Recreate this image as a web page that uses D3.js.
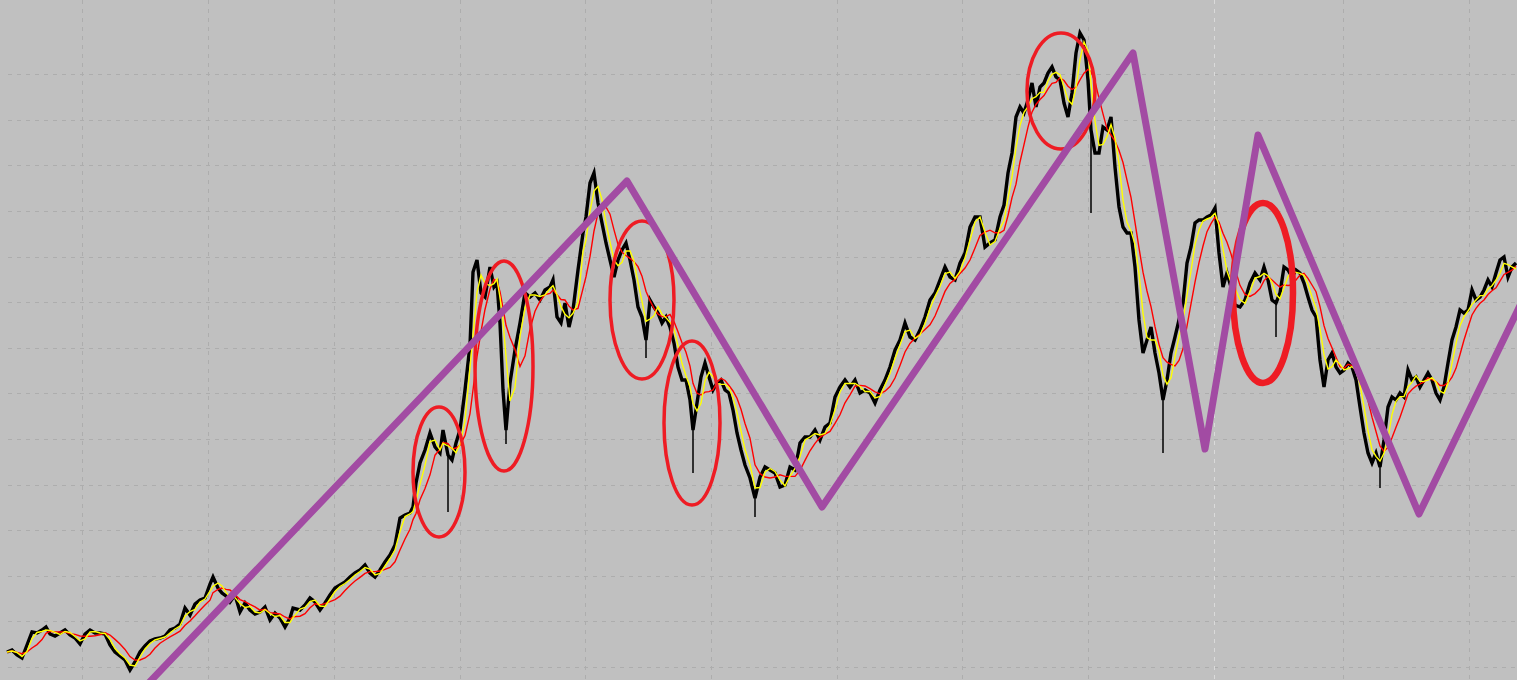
<!DOCTYPE html>
<html>
<head>
<meta charset="utf-8">
<script src="https://cdn.jsdelivr.net/npm/d3@7/dist/d3.min.js"></script>
<style>
  body { margin: 0; background: #c0c0c0; overflow: hidden; }
  svg { display: block; }
</style>
</head>
<body>
<div id="chart"></div>
<script>
var width = 1517, height = 680

// bar number of each sample
var bars = [7,12,17,22,27,32,37,42,46,50,55,60,65,70,75,80,85,90,95,100,105,110,115,120,125,130,135,140,145,150,155,160,165,170,175,180,185,190,195,200,205,210,213,218,222,226,230,235,240,245,250,255,260,265,270,275,280,285,290,293,300,305,310,315,320,325,330,335,340,345,350,355,360,365,370,375,380,385,390,395,400,405,410,413,416,420,425,430,435,440,443,448,452,456,460,465,470,473,477,481,485,490,494,497,500,503,506,510,515,520,525,530,535,540,545,550,553,557,561,565,569,573,578,583,586,590,594,598,602,606,610,614,618,622,626,630,634,638,642,646,650,654,658,662,666,670,674,678,682,686,690,693,697,701,705,709,713,717,721,725,729,733,737,741,745,750,755,760,765,770,775,780,785,790,795,800,805,810,815,820,825,830,835,840,845,850,855,860,865,870,875,880,885,890,895,900,905,910,915,920,925,930,935,940,945,950,955,960,965,970,975,980,985,990,995,1000,1004,1008,1012,1016,1020,1024,1028,1032,1036,1040,1044,1048,1052,1056,1060,1064,1068,1072,1076,1080,1084,1088,1091,1095,1099,1103,1107,1111,1115,1119,1123,1127,1131,1135,1139,1143,1147,1151,1155,1159,1163,1167,1171,1175,1179,1183,1187,1191,1195,1199,1203,1207,1211,1215,1219,1223,1227,1231,1235,1240,1245,1250,1255,1260,1264,1268,1272,1276,1280,1284,1288,1292,1296,1300,1304,1308,1312,1316,1320,1324,1328,1332,1336,1340,1344,1348,1352,1356,1360,1364,1368,1372,1376,1380,1384,1388,1392,1396,1400,1404,1408,1412,1416,1420,1424,1428,1432,1436,1440,1444,1448,1452,1456,1460,1464,1468,1472,1476,1480,1484,1488,1492,1496,1500,1504,1508,1512,1516]

// price at each sample
var price = [28,30,25,22,35,48,47,50,53,46,44,47,50,45,42,36,46,50,47,47,46,35,28,24,20,10,18,28,34,39,41,42,44,50,52,56,72,65,76,80,82,96,103,92,87,84,78,85,68,77,70,66,68,73,60,67,62,53,62,72,70,75,82,78,70,77,85,92,95,98,103,107,110,115,107,103,110,118,125,135,162,165,167,173,197,217,230,247,233,227,250,225,220,237,250,290,335,408,420,387,383,413,393,397,357,290,250,297,330,357,387,383,387,380,390,393,400,363,357,377,353,370,410,447,463,497,507,477,457,437,420,403,420,430,437,420,400,373,363,340,380,373,367,357,363,353,337,313,300,300,280,250,277,303,317,303,290,297,300,290,287,270,247,230,215,202,182,203,213,210,207,193,195,213,210,237,243,243,250,240,253,257,283,293,300,293,300,287,290,287,277,290,300,313,330,340,357,343,340,350,363,380,387,400,413,403,400,417,427,453,463,463,433,437,440,463,475,507,527,563,573,567,580,597,573,593,597,607,613,603,600,577,563,587,627,647,640,600,550,527,527,553,550,563,513,473,453,447,447,413,360,327,340,353,327,307,280,300,327,343,360,377,417,433,457,460,460,463,465,472,427,393,407,393,375,373,380,397,407,400,413,400,380,377,387,413,410,403,410,407,397,383,370,363,320,293,320,327,313,307,310,317,313,300,273,247,227,217,227,213,240,273,283,280,287,283,310,300,303,293,300,307,300,287,280,293,317,340,353,370,367,370,390,380,383,390,400,393,407,420,423,403,413,417]

// thin downward spikes: [bar, top price, low price]
var spikes = [[448,225,168],[506,250,236],[646,340,322],[693,250,207],[755,182,163],[1091,550,467],[1163,280,227],[1276,377,343],[1380,213,192]]

// moving average lengths, in bars
var fastLen = 10, slowLen = 22

// grid
var gridPrices = d3.range(0, 14).map(function(k){ return 13 + 45.6 * k })
var gridBars = [82,208,334,460,585,711,837,962,1088,1214,1343,1469]
var yearBar = 1214

// hand drawn trend zigzag: [bar, price]
var zigzag = [[142,-10],[627,499],[822,173],[1133,627],[1205,231],[1258,545],[1419,166],[1530,395]]

// red circles: [bar, price, half width in bars, half height in price, thick]
var circles = [[439,208,26,65,0],[504,314,29,105,0],[642,380,32,79,0],[692,257,28,82,0],[1061,589,34,58,0],[1263,387,30,90,1]]

var x = d3.scaleLinear().domain([0, width]).range([0, width])
var y = d3.scaleLinear().domain([0, height]).range([height, 0])

var svg = d3.select("#chart").append("svg")
    .attr("width", width)
    .attr("height", height)

svg.append("rect").attr("width", width).attr("height", height).attr("fill", "#c0c0c0")

// grid lines
svg.append("g").selectAll("line")
    .data(gridPrices)
    .enter().append("line")
    .attr("x1", 8).attr("x2", width)
    .attr("y1", function(d){ return Math.round(y(d)) + 0.5 })
    .attr("y2", function(d){ return Math.round(y(d)) + 0.5 })
    .attr("stroke", "#adadad")
    .attr("stroke-dasharray", "4,5")

svg.append("g").selectAll("line")
    .data(gridBars)
    .enter().append("line")
    .attr("x1", function(d){ return Math.round(x(d)) + 0.5 })
    .attr("x2", function(d){ return Math.round(x(d)) + 0.5 })
    .attr("y1", 0).attr("y2", height)
    .attr("stroke", function(d){ return d === yearBar ? "#dadada" : "#adadad" })
    .attr("stroke-dasharray", "4,5")

// series table
var data = bars.map(function(b, i){ return {bar: b, price: price[i]} })

function movingAvg(len){
    return data.map(function(d){
        var win = data.filter(function(e){ return e.bar <= d.bar && e.bar > d.bar - len })
        return {bar: d.bar, price: d3.mean(win, function(e){ return e.price })}
    })
}

var line = d3.line()
    .x(function(d){ return x(d.bar) })
    .y(function(d){ return y(d.price) })

svg.append("path")
    .datum(data)
    .attr("d", line)
    .attr("fill", "none")
    .attr("stroke", "#000")
    .attr("stroke-width", 3.4)
    .attr("stroke-linejoin", "miter")

svg.append("g").selectAll("line")
    .data(spikes)
    .enter().append("line")
    .attr("x1", function(d){ return x(d[0]) })
    .attr("x2", function(d){ return x(d[0]) })
    .attr("y1", function(d){ return y(d[1]) })
    .attr("y2", function(d){ return y(d[2]) })
    .attr("stroke", "#000")
    .attr("stroke-width", 1.5)

svg.append("path")
    .datum(movingAvg(slowLen))
    .attr("d", line)
    .attr("fill", "none")
    .attr("stroke", "#ff0000")
    .attr("stroke-width", 1.4)

svg.append("path")
    .datum(movingAvg(fastLen))
    .attr("d", line)
    .attr("fill", "none")
    .attr("stroke", "#ffff00")
    .attr("stroke-width", 1.4)

// red circles
svg.append("g").selectAll("ellipse")
    .data(circles)
    .enter().append("ellipse")
    .attr("cx", function(d){ return x(d[0]) })
    .attr("cy", function(d){ return y(d[1]) })
    .attr("rx", function(d){ return x(d[2]) - x(0) })
    .attr("ry", function(d){ return y(0) - y(d[3]) })
    .attr("fill", "none")
    .attr("stroke", "#ee1c24")
    .attr("stroke-width", function(d){ return d[4] ? 6.5 : 3.5 })

// purple zigzag
svg.append("path")
    .datum(zigzag)
    .attr("d", d3.line().x(function(d){ return x(d[0]) }).y(function(d){ return y(d[1]) }))
    .attr("fill", "none")
    .attr("stroke", "#a24ba3")
    .attr("stroke-width", 7)
    .attr("stroke-linejoin", "round")
</script>
</body>
</html>
